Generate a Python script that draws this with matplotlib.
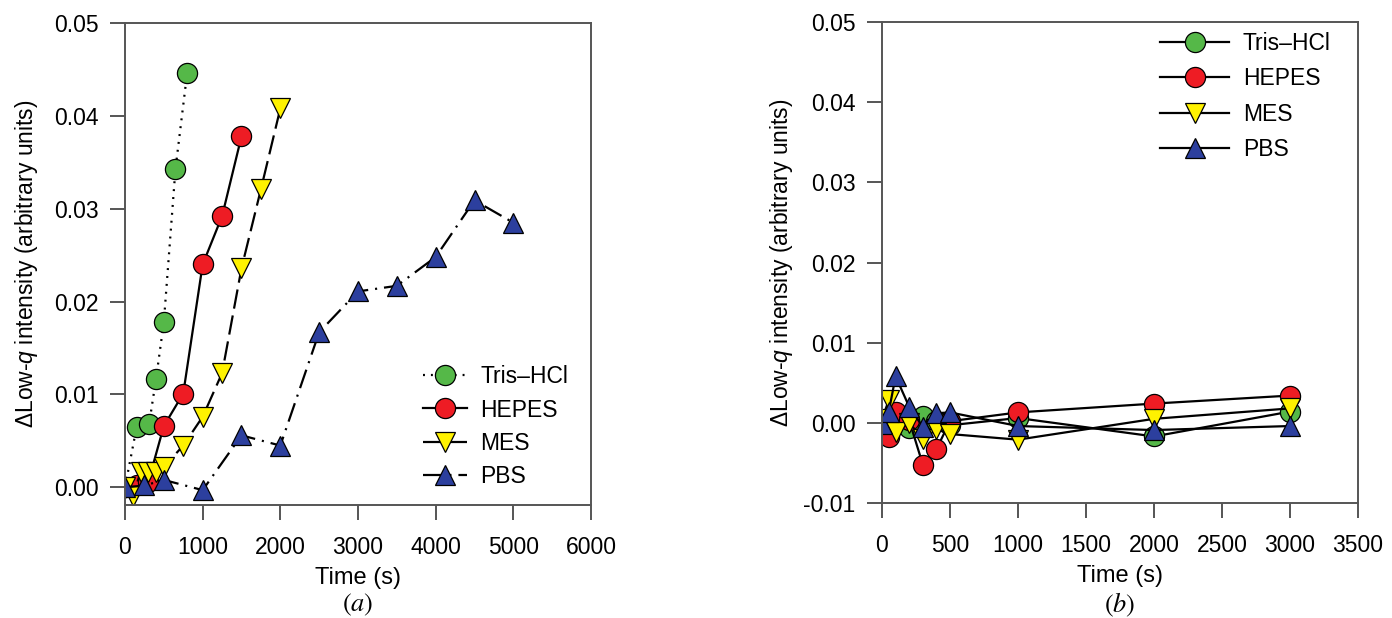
import matplotlib
matplotlib.use('Agg')
import matplotlib.pyplot as plt

plt.rcParams['font.family'] = ['Liberation Sans', 'DejaVu Sans']
plt.rcParams['mathtext.fontset'] = 'custom'
plt.rcParams['mathtext.rm'] = 'Liberation Sans'
plt.rcParams['mathtext.it'] = 'Liberation Sans:italic'
plt.rcParams['lines.scale_dashes'] = False

# (a) data
tris_t = [0, 150, 310, 400, 500, 650, 800]
tris_y = [0.0, 0.0065, 0.0068, 0.0117, 0.0178, 0.0343, 0.0446]
hepes_t = [0, 150, 300, 500, 750, 1000, 1250, 1500]
hepes_y = [0.0, 0.0003, 0.0006, 0.0066, 0.0101, 0.0240, 0.0292, 0.0378]
mes_t = [0, 100, 200, 300, 400, 500, 750, 1000, 1250, 1500, 1750, 2000]
mes_y = [0.0, -0.0009, 0.0016, 0.0016, 0.0017, 0.0022, 0.0045, 0.0076, 0.0123, 0.0236, 0.0321, 0.0408]
pbs_t = [0, 250, 500, 1000, 1500, 2000, 2500, 3000, 3500, 4000, 4500, 5000]
pbs_y = [0.0, 0.0002, 0.0008, -0.0003, 0.0056, 0.0045, 0.0167, 0.0211, 0.0217, 0.0248, 0.0309, 0.0285]

# (b) data
t_b = [0, 50, 100, 200, 300, 400, 500, 1000, 2000, 3000]
tris_b = [0.0, -0.0005, 0.0, -0.0006, 0.0008, 0.0002, -0.0003, 0.0006, -0.0017, 0.0014]
hepes_b = [0.0, -0.0018, 0.0014, 0.0003, -0.0052, -0.0033, 0.0002, 0.0013, 0.0024, 0.0034]
mes_b = [0.0005, 0.0028, -0.0012, 0.0, -0.0020, -0.0008, -0.0014, -0.0021, 0.0005, 0.0018]
pbs_b = [-0.0002, 0.0014, 0.0058, 0.0020, -0.0005, 0.0012, 0.0013, -0.0004, -0.0009, -0.0004]

labels = ['Tris\u2013HCl', 'HEPES', 'MES', 'PBS']
colors = ['#55b848', '#ee1c24', '#fff200', '#2c3f9e']
markers = ['o', 'o', 'v', '^']
dash_a = [(1.4, 4.3), None, (14, 5), (14, 5, 1.5, 5)]

ylab = '\u0394Low-$q$ intensity (arbitrary units)'
spine_col = '#555555'

fig = plt.figure(figsize=(13.92, 6.18), dpi=100)
ax1 = fig.add_axes([125 / 1392, 113 / 618, 466 / 1392, 482 / 618])
ax2 = fig.add_axes([882 / 1392, 115 / 618, 476 / 1392, 481 / 618])

series_a = [(tris_t, tris_y), (hepes_t, hepes_y), (mes_t, mes_y), (pbs_t, pbs_y)]
for (t, y), lab, c, m, d in zip(series_a, labels, colors, markers, dash_a):
    ln, = ax1.plot(t, y, color='black', lw=1.6, marker=m, markersize=14.5,
                   markerfacecolor=c, markeredgecolor='black', markeredgewidth=0.9,
                   label=lab)
    if d is not None:
        ln.set_dashes(d)

series_b = [tris_b, hepes_b, mes_b, pbs_b]
for y, lab, c, m in zip(series_b, labels, colors, markers):
    ax2.plot(t_b, y, color='black', lw=1.6, marker=m, markersize=14.5,
             markerfacecolor=c, markeredgecolor='black', markeredgewidth=0.9,
             label=lab)

ax1.set_xlim(0, 6000)
ax1.set_ylim(-0.0019, 0.05)
ax1.set_xticks(range(0, 6001, 1000))
ax1.set_yticks([0.0, 0.01, 0.02, 0.03, 0.04, 0.05])
ax1.set_yticklabels(['0.00', '0.01', '0.02', '0.03', '0.04', '0.05'])

ax2.set_xlim(0, 3500)
ax2.set_ylim(-0.01, 0.05)
ax2.set_xticks(range(0, 3501, 500))
ax2.set_yticks([-0.01, 0.0, 0.01, 0.02, 0.03, 0.04, 0.05])
ax2.set_yticklabels(['-0.01', '0.00', '0.01', '0.02', '0.03', '0.04', '0.05'])

for ax in (ax1, ax2):
    for s in ax.spines.values():
        s.set_color(spine_col)
        s.set_linewidth(1.4)
    ax.tick_params(direction='out', length=11, width=1.4, color=spine_col,
                   labelsize=16.5, pad=8)
    ax.tick_params(axis='x', pad=11)
    ax.set_xlabel('Time (s)', fontsize=17, labelpad=6)
ax1.set_ylabel(ylab, fontsize=16.5, labelpad=10)
ax2.set_ylabel(ylab, fontsize=16.5, labelpad=6)

ax1.legend(loc='lower left', bbox_to_anchor=(0.64, 0.035), frameon=False,
           fontsize=16.5, handlelength=1.9, handletextpad=0.6,
           labelspacing=0.45, borderpad=0, borderaxespad=0)
ax2.legend(loc='upper left', bbox_to_anchor=(0.585, 0.98), frameon=False,
           fontsize=16.5, handlelength=3.0, handletextpad=0.6,
           labelspacing=0.55, borderpad=0, borderaxespad=0)

fig.text(358 / 1392, 1 - 605 / 618, '$(a)$', math_fontfamily='stix',
         fontsize=19, ha='center', va='center')
fig.text(1120 / 1392, 1 - 605 / 618, '$(b)$', math_fontfamily='stix',
         fontsize=19, ha='center', va='center')

fig.savefig('out.png', dpi=100)
